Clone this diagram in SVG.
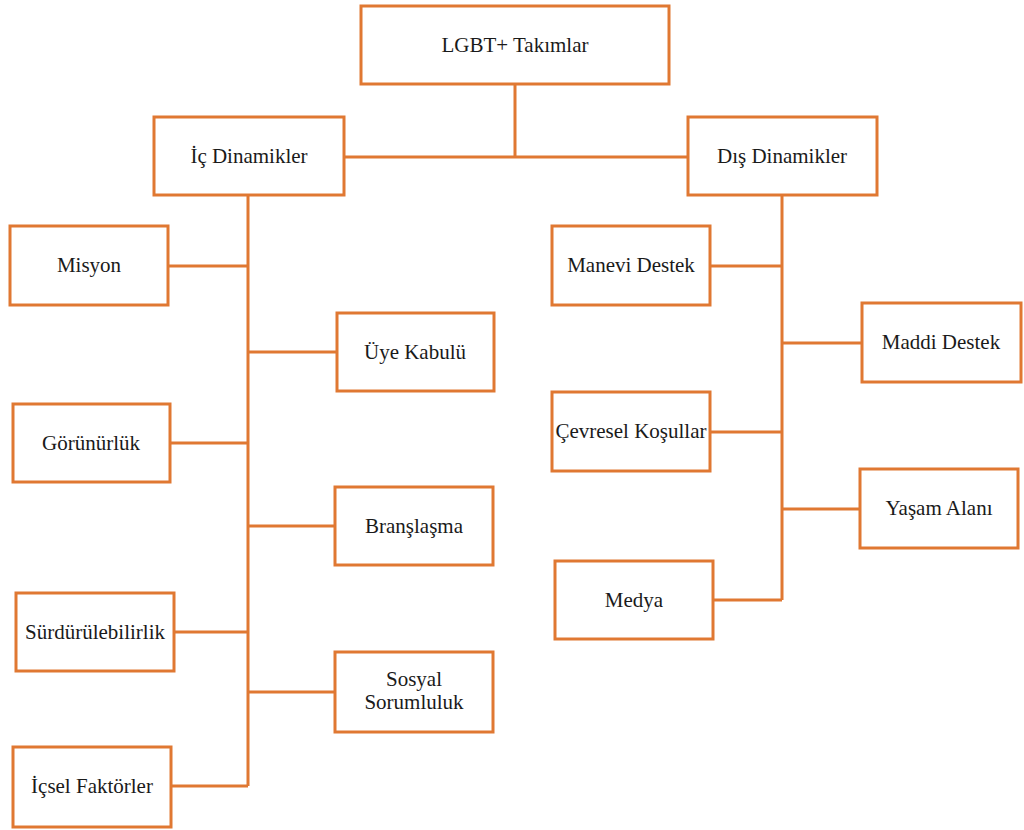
<svg xmlns="http://www.w3.org/2000/svg" width="1024" height="830" viewBox="0 0 1024 830">
  <style>
    .box { fill: #ffffff; stroke: #E07832; stroke-width: 3; }
    .link { fill: none; stroke: #E07832; stroke-width: 3; }
    .label { font-family: 'Liberation Serif', 'Times New Roman', serif; font-size: 21px; fill: #1a1a1a; text-anchor: middle; }
  </style>
  <rect width="1024" height="830" fill="#ffffff"/>

  <!-- tree connectors -->
  <g id="connectors">
    <path class="link" d="M515 84 V157 M345 157 H688"/>
    <!-- left trunk -->
    <path class="link" d="M248 195 V786"/>
    <path class="link" d="M168 266 H248 M248 352 H337 M170 443 H248 M248 526 H335 M174 632 H248 M248 692 H335 M171 786 H248"/>
    <!-- right trunk -->
    <path class="link" d="M782 195 V600"/>
    <path class="link" d="M710 266 H782 M782 343 H862 M710 432 H782 M782 509 H860 M713 600 H782"/>
  </g>

  <g id="root">
    <rect class="box" x="361" y="6" width="308" height="78"/>
    <text class="label" x="515" y="52">LGBT+ Takımlar</text>
  </g>

  <g id="ic-dinamikler">
    <rect class="box" x="154" y="117" width="190" height="78"/>
    <text class="label" x="249" y="163">İç Dinamikler</text>
  </g>
  <g id="dis-dinamikler">
    <rect class="box" x="688" y="117" width="189" height="78"/>
    <text class="label" x="782" y="163">Dış Dinamikler</text>
  </g>

  <g id="misyon">
    <rect class="box" x="10" y="226" width="158" height="79"/>
    <text class="label" x="89" y="272">Misyon</text>
  </g>
  <g id="uye-kabulu">
    <rect class="box" x="337" y="313" width="157" height="78"/>
    <text class="label" x="415" y="359">Üye Kabulü</text>
  </g>
  <g id="gorunurluk">
    <rect class="box" x="13" y="404" width="157" height="78"/>
    <text class="label" x="91" y="450">Görünürlük</text>
  </g>
  <g id="branslasma">
    <rect class="box" x="335" y="487" width="158" height="78"/>
    <text class="label" x="414" y="533">Branşlaşma</text>
  </g>
  <g id="surdurulebilirlik">
    <rect class="box" x="16" y="593" width="158" height="78"/>
    <text class="label" x="95" y="639">Sürdürülebilirlik</text>
  </g>
  <g id="sosyal-sorumluluk">
    <rect class="box" x="335" y="652" width="158" height="80"/>
    <text class="label" x="414" y="686">Sosyal</text>
    <text class="label" x="414" y="709">Sorumluluk</text>
  </g>
  <g id="icsel-faktorler">
    <rect class="box" x="13" y="747" width="158" height="80"/>
    <text class="label" x="92" y="793">İçsel Faktörler</text>
  </g>

  <g id="manevi-destek">
    <rect class="box" x="552" y="226" width="158" height="79"/>
    <text class="label" x="631" y="272">Manevi Destek</text>
  </g>
  <g id="maddi-destek">
    <rect class="box" x="862" y="303" width="159" height="79"/>
    <text class="label" x="941" y="349">Maddi Destek</text>
  </g>
  <g id="cevresel-kosullar">
    <rect class="box" x="552" y="392" width="158" height="79"/>
    <text class="label" x="631" y="438">Çevresel Koşullar</text>
  </g>
  <g id="yasam-alani">
    <rect class="box" x="860" y="469" width="158" height="79"/>
    <text class="label" x="939" y="515">Yaşam Alanı</text>
  </g>
  <g id="medya">
    <rect class="box" x="555" y="561" width="158" height="78"/>
    <text class="label" x="634" y="607">Medya</text>
  </g>
</svg>
